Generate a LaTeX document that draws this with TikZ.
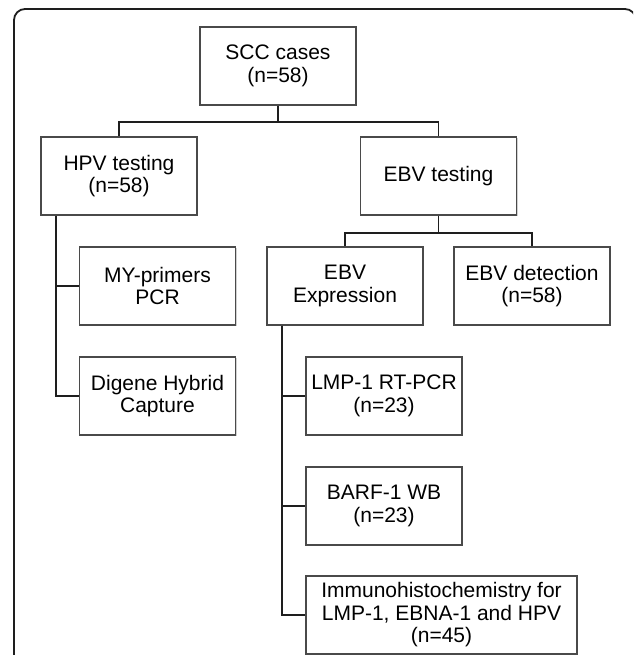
\documentclass[tikz,border=0pt]{standalone}
\usepackage{fontspec}
\setmainfont{Liberation Sans}
\usetikzlibrary{shadows}
\definecolor{boxline}{HTML}{4A4A4A}
\definecolor{conn}{HTML}{1E1E1E}
\tikzset{
  stepbox/.style={draw=boxline, line width=1.4pt, fill=white, rectangle,
    minimum width=156pt, minimum height=78pt, inner sep=2pt, align=center,
    font=\fontsize{21}{22.5}\selectfont,
    drop shadow={shadow xshift=1.2pt, shadow yshift=-1.2pt, fill=black!30, opacity=0.6}},
  link/.style={draw=conn, line width=1.8pt}
}
\begin{document}
\begin{tikzpicture}[x=1pt, y=-1pt]
\useasboundingbox (0,0) rectangle (633,655);
\begin{scope}
\clip (0,0) rectangle (633,655);
\draw[draw=conn, line width=1.8pt, rounded corners=11pt] (14,720) -- (14,9) -- (636,9) -- (636,720);

\node[stepbox] (scc) at (278,66) {SCC cases\\(n=58)};
\node[stepbox] (hpv) at (119,176) {HPV testing\\(n=58)};
\node[stepbox] (ebv) at (438.5,176) {EBV testing};
\node[stepbox] (my) at (157.5,286) {MY-primers\\PCR};
\node[stepbox] (dig) at (157.5,396) {Digene Hybrid\\Capture};
\node[stepbox] (expr) at (345,286) {EBV\\Expression};
\node[stepbox] (det) at (532,286) {EBV detection\\(n=58)};
\node[stepbox] (lmp) at (384,396) {LMP-1 RT-PCR\\(n=23)};
\node[stepbox] (barf) at (384,506) {BARF-1 WB\\(n=23)};
\node[stepbox, minimum width=271pt] (ihc) at (441.5,615) {Immunohistochemistry for\\LMP-1, EBNA-1 and HPV\\(n=45)};

\draw[link] (scc.south) -- ++(0,16) coordinate (s1) -| (hpv.north);
\draw[link] (s1) -| (ebv.north);

\draw[link] (hpv.south west) ++(16,0) coordinate (h1) |- (my.west);
\draw[link] (h1) |- (dig.west);

\draw[link] (ebv.south) -- ++(0,17) coordinate (e1) -| (expr.north);
\draw[link] (e1) -| (det.north);

\draw[link] (expr.south west) ++(16,0) coordinate (x1) |- (lmp.west);
\draw[link] (x1) |- (barf.west);
\draw[link] (x1) |- (ihc.west);
\end{scope}
\end{tikzpicture}
\end{document}
